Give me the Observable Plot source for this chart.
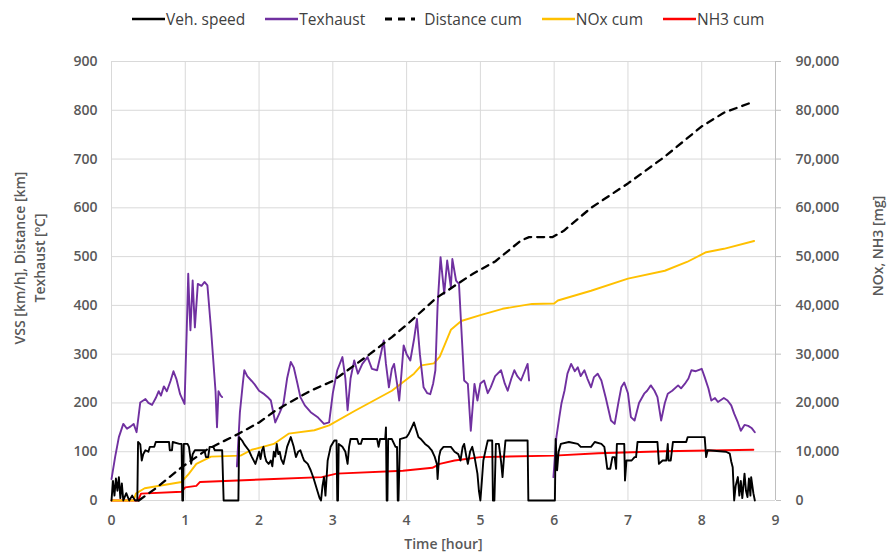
<!DOCTYPE html>
<html>
<head>
<meta charset="utf-8">
<script src="https://cdn.jsdelivr.net/npm/d3@7"></script>
<script src="https://cdn.jsdelivr.net/npm/@observablehq/plot@0.6"></script>
<style>
  html, body { margin: 0; padding: 0; background: #fff; }
  body { width: 890px; height: 557px; overflow: hidden; position: relative; font-family: "Open Sans", sans-serif; }
  #legend { position: absolute; left: 132px; top: 6px; height: 26px; display: flex; align-items: center; font-size: 15.5px; color: #404040; }
  .item { display: flex; align-items: center; margin-right: 20px; }
  .item svg { margin-right: 1px; }
  #chart { position: absolute; left: 0; top: 36px; }
</style>
</head>
<body>
<div id="legend"></div>
<div id="chart"></div>
<script>
// ---- data ----
const xTicks = [0, 1, 2, 3, 4, 5, 6, 7, 8, 9];
const yTicks = [0, 100, 200, 300, 400, 500, 600, 700, 800, 900];

const seriesNames = ["Veh. speed", "Texhaust", "Distance cum", "NOx cum", "NH3 cum"];

// Vehicle speed [km/h]
const speedT = [0.00,0.02,0.04,0.06,0.08,0.10,0.12,0.14,0.16,0.20,0.24,0.28,0.32,0.35,0.36,0.39,0.41,0.43,0.46,0.50,0.52,0.58,0.60,0.78,0.79,0.82,0.83,0.92,0.95,0.96,0.97,0.98,1.03,1.05,1.08,1.10,1.13,1.20,1.26,1.28,1.31,1.33,1.38,1.40,1.50,1.52,1.72,1.73,1.77,1.80,1.86,1.90,1.95,2.00,2.02,2.04,2.06,2.08,2.10,2.13,2.16,2.18,2.20,2.22,2.24,2.26,2.28,2.30,2.33,2.36,2.38,2.43,2.47,2.50,2.53,2.56,2.59,2.61,2.66,2.70,2.74,2.79,2.82,2.84,2.86,2.88,2.90,2.93,2.97,3.02,3.05,3.06,3.07,3.08,3.13,3.17,3.20,3.22,3.24,3.33,3.35,3.38,3.40,3.60,3.62,3.64,3.71,3.72,3.73,3.74,3.75,3.80,3.85,3.87,3.88,3.89,3.91,4.00,4.03,4.07,4.10,4.13,4.16,4.20,4.25,4.30,4.34,4.38,4.41,4.42,4.44,4.46,4.50,4.60,4.65,4.70,4.73,4.76,4.78,4.81,4.83,4.86,4.89,4.92,4.96,4.98,5.00,5.02,5.04,5.08,5.10,5.16,5.17,5.19,5.21,5.25,5.28,5.30,5.32,5.34,5.64,5.65,6.01,6.02,6.04,6.06,6.09,6.20,6.32,6.36,6.50,6.55,6.64,6.68,6.70,6.72,6.76,6.79,6.82,6.84,6.85,6.95,6.96,6.98,7.05,7.09,7.11,7.13,7.40,7.42,7.47,7.52,7.54,7.55,7.58,7.61,7.79,7.81,8.04,8.06,8.08,8.33,8.38,8.40,8.42,8.44,8.46,8.49,8.51,8.53,8.55,8.58,8.60,8.62,8.64,8.66,8.67,8.70,8.72];
const speedV = [0,40,10,45,20,48,5,35,0,15,0,10,0,0,120,115,82,95,103,100,110,110,120,120,103,103,120,116,116,0,0,116,116,110,75,95,103,103,103,89,89,110,110,103,103,0,0,130,123,115,103,90,75,100,85,103,110,90,80,75,82,70,100,90,116,95,100,85,75,95,110,130,110,89,100,103,90,82,75,62,45,20,5,0,30,48,10,82,110,123,123,0,0,116,110,100,75,110,126,126,116,116,126,126,110,126,126,150,0,0,126,126,110,110,0,0,126,130,137,150,160,145,130,125,116,110,103,90,75,44,90,103,110,110,100,95,82,110,116,90,75,100,110,90,55,20,0,40,82,110,123,123,0,0,116,116,80,48,90,123,123,0,0,126,62,100,116,120,116,110,110,120,116,110,89,65,65,89,89,65,116,116,41,82,82,89,89,120,120,75,82,82,116,82,82,120,120,130,130,89,103,100,96,80,68,0,30,48,10,40,5,55,20,7,45,10,48,15,0];

// Exhaust temperature [ºC] (null = no data)
const texT = [0.00,0.05,0.10,0.16,0.21,0.26,0.30,0.34,0.39,0.46,0.50,0.55,0.60,0.64,0.67,0.71,0.75,0.80,0.84,0.88,0.93,0.99,1.02,1.04,1.06,1.07,1.10,1.13,1.17,1.22,1.26,1.30,1.35,1.41,1.43,1.45,1.48,1.50,1.55,1.70,1.74,1.78,1.80,1.84,1.90,1.94,2.00,2.07,2.13,2.16,2.22,2.28,2.33,2.38,2.43,2.47,2.52,2.56,2.62,2.70,2.80,2.88,2.95,3.00,3.06,3.13,3.17,3.20,3.24,3.29,3.34,3.40,3.47,3.53,3.60,3.65,3.69,3.72,3.76,3.80,3.83,3.87,3.90,3.93,3.96,4.00,4.05,4.10,4.14,4.18,4.23,4.28,4.32,4.36,4.39,4.42,4.46,4.51,4.55,4.60,4.62,4.67,4.71,4.75,4.78,4.83,4.87,4.92,4.96,5.00,5.05,5.10,5.14,5.20,5.28,5.33,5.37,5.42,5.46,5.50,5.55,5.60,5.64,5.66,5.80,5.99,6.03,6.07,6.10,6.14,6.18,6.23,6.28,6.32,6.36,6.41,6.45,6.50,6.54,6.59,6.64,6.70,6.77,6.82,6.87,6.91,6.95,7.00,7.04,7.09,7.15,7.22,7.26,7.31,7.36,7.40,7.45,7.50,7.54,7.60,7.68,7.72,7.77,7.82,7.86,7.92,8.00,8.04,8.09,8.13,8.18,8.22,8.30,8.35,8.40,8.44,8.49,8.53,8.58,8.63,8.68,8.72];
const texV = [44,90,130,157,147,152,157,140,201,208,200,196,210,224,215,234,224,245,265,249,218,198,350,465,380,349,451,355,444,440,448,441,349,224,150,224,215,212,null,70,180,240,267,255,245,238,225,218,210,205,160,180,198,250,284,273,240,212,195,181,170,157,160,220,267,294,250,185,250,287,260,280,294,270,267,300,328,280,232,270,280,240,205,260,318,300,287,330,372,300,232,220,218,240,267,400,499,424,492,437,495,451,444,330,246,239,143,239,205,240,246,220,232,255,267,240,225,250,267,255,246,265,280,246,null,48,130,171,200,225,260,280,265,273,255,267,250,232,253,260,246,210,164,157,200,232,242,220,171,164,200,219,225,236,225,212,164,200,219,225,236,230,239,250,267,265,270,253,230,205,210,202,210,205,195,178,160,143,155,153,148,140];

// Cumulative distance [km]
const distT = [0.37,0.60,0.95,1.30,1.70,2.00,2.20,2.40,2.70,3.00,3.50,3.80,4.00,4.40,4.90,5.20,5.55,5.66,5.98,6.13,6.50,7.00,7.50,8.00,8.30,8.64];
const distV = [0,25,68,105,135,160,182,200,225,245,300,335,360,415,465,490,533,540,540,553,600,650,705,767,795,814];

// Cumulative NOx [mg]
const noxT = [0.00,0.30,0.33,0.45,0.95,1.05,1.15,1.35,1.75,1.90,2.20,2.40,2.75,2.95,3.30,3.80,4.10,4.20,4.37,4.45,4.60,4.74,5.00,5.30,5.70,6.00,6.05,6.50,7.00,7.50,7.80,8.06,8.30,8.71];
const noxV = [0,0,1400,2500,3800,5500,7500,9000,9200,10400,11600,13700,14400,15400,18400,22500,26000,27700,28100,29500,35000,36800,38000,39300,40300,40400,41000,43000,45500,47100,48900,50900,51600,53200];

// Cumulative NH3 [mg]
const nh3T = [0.00,0.36,0.40,0.95,1.00,1.15,1.20,2.20,2.85,3.05,3.95,4.35,4.45,4.65,5.00,6.00,6.60,7.50,8.70];
const nh3V = [0,0,1400,1800,2700,3000,3800,4400,4800,5500,6100,6700,7500,8200,8900,9200,9700,10100,10400];

const rightFactor = 100; // right axis (mg) = left axis units × 100

// ---- build tables ----
const speed = speedT.map((t, i) => ({t, v: speedV[i]}));
const tex = texT.map((t, i) => ({t, v: texV[i]}));
const dist = distT.map((t, i) => ({t, v: distV[i]}));
const nox = noxT.map((t, i) => ({t, v: noxV[i] / rightFactor}));
const nh3 = nh3T.map((t, i) => ({t, v: nh3V[i] / rightFactor}));

const colors = {
  "Veh. speed": "#000000",
  "Texhaust": "#7030A0",
  "Distance cum": "#000000",
  "NOx cum": "#FFC000",
  "NH3 cum": "#FF0000"
};

// ---- legend ----
const legend = document.getElementById("legend");
seriesNames.forEach(name => {
  const item = document.createElement("div");
  item.className = "item";
  const dashed = name === "Distance cum";
  const w = dashed ? 38 : 33;
  item.innerHTML = `<svg width="${w}" height="10"><line x1="0" x2="${dashed ? 30 : 33}" y1="5" y2="5" stroke="${colors[name]}" stroke-width="${dashed ? 3 : 2.5}" ${dashed ? 'stroke-dasharray="7,6"' : ''}/></svg><span>${name}</span>`;
  legend.appendChild(item);
});

// ---- chart ----
const gridColor = "#d9d9d9";
const chart = Plot.plot({
  width: 890,
  height: 521,
  marginTop: 25,
  marginBottom: 57,
  marginLeft: 111,
  marginRight: 115,
  style: {fontFamily: "'Open Sans', sans-serif", fontSize: "14px", fontWeight: 600, color: "#595959", background: "#fff"},
  x: {domain: [0, 9]},
  y: {domain: [0, 900]},
  marks: [
    Plot.gridY(yTicks, {stroke: gridColor, strokeOpacity: 1}),
    Plot.gridX(xTicks, {stroke: gridColor, strokeOpacity: 1}),
    Plot.ruleX([9], {stroke: "#bfbfbf"}),
    Plot.axisY(yTicks, {anchor: "left", tickSize: 0, tickPadding: 14, label: null}),
    Plot.axisY(yTicks, {anchor: "right", tickSize: 5, tickPadding: 15, stroke: "#bfbfbf", label: null,
      tickFormat: d => (d * rightFactor).toLocaleString("en-US")}),
    Plot.axisX(xTicks, {anchor: "bottom", tickSize: 0, tickPadding: 15, label: null}),
    Plot.line(nh3, {x: "t", y: "v", stroke: colors["NH3 cum"], strokeWidth: 1.9}),
    Plot.line(nox, {x: "t", y: "v", stroke: colors["NOx cum"], strokeWidth: 1.9}),
    Plot.line(tex, {x: "t", y: "v", stroke: colors["Texhaust"], strokeWidth: 1.9}),
    Plot.line(speed, {x: "t", y: "v", stroke: colors["Veh. speed"], strokeWidth: 1.9}),
    Plot.line(dist, {x: "t", y: "v", stroke: colors["Distance cum"], strokeWidth: 2.3, strokeDasharray: "7,6"}),
    Plot.text(["VSS [km/h], Distance [km]"], {frameAnchor: "left", textAnchor: "middle", dx: -91, dy: -23, rotate: -90, fontSize: 14, fontWeight: 600}),
    Plot.text(["Texhaust [ºC]"], {frameAnchor: "left", textAnchor: "middle", dx: -71, dy: -23, rotate: -90, fontSize: 14, fontWeight: 600}),
    Plot.text(["NOx, NH3 [mg]"], {frameAnchor: "right", textAnchor: "middle", dx: 103, dy: -35, rotate: -90, fontSize: 14, fontWeight: 600}),
    Plot.text(["Time [hour]"], {frameAnchor: "bottom", dy: 48, fontSize: 14, fontWeight: 600})
  ]
});
document.getElementById("chart").appendChild(chart);
</script>
</body>
</html>
